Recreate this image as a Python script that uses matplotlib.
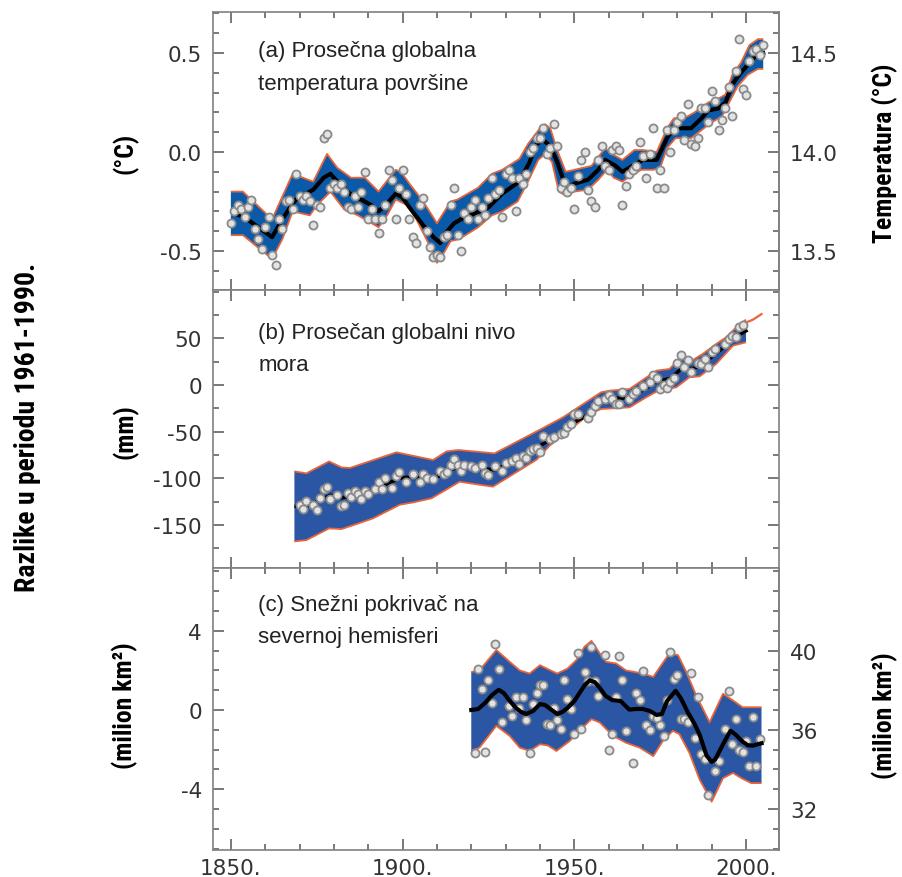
import numpy as np
import matplotlib
matplotlib.use("Agg")
import matplotlib.pyplot as plt
from matplotlib import font_manager
from matplotlib.ticker import MultipleLocator, FixedLocator, FormatStrFormatter

# ---------------- data ----------------
# (a) global mean surface temperature anomaly (deg C), annual values
temp_years = list(range(1850, 2006))
temp_anom = [
    -0.36, -0.30, -0.27, -0.29, -0.33, -0.28, -0.24, -0.39, -0.44, -0.49,
    -0.38, -0.33, -0.52, -0.57, -0.34, -0.39, -0.25, -0.24, -0.29, -0.11,
    -0.22, -0.24, -0.22, -0.25, -0.37, -0.27, -0.28, 0.07, 0.09, -0.18,
    -0.16, -0.18, -0.16, -0.20, -0.28, -0.29, -0.22, -0.28, -0.20, -0.10,
    -0.34, -0.29, -0.34, -0.41, -0.34, -0.27, -0.09, -0.14, -0.34, -0.18,
    -0.09, -0.21, -0.34, -0.43, -0.46, -0.27, -0.23, -0.40, -0.48, -0.53,
    -0.52, -0.53, -0.43, -0.42, -0.27, -0.18, -0.42, -0.50, -0.31, -0.34,
    -0.28, -0.24, -0.34, -0.28, -0.32, -0.23, -0.13, -0.21, -0.19, -0.33,
    -0.11, -0.09, -0.13, -0.30, -0.13, -0.16, -0.11, 0.00, 0.02, 0.07,
    0.07, 0.12, -0.01, 0.02, 0.14, 0.03, -0.18, -0.15, -0.20, -0.18,
    -0.29, -0.12, -0.04, 0.00, -0.19, -0.25, -0.28, -0.04, 0.03, -0.07,
    -0.09, 0.01, 0.03, 0.01, -0.27, -0.17, -0.11, -0.09, -0.07, 0.05,
    -0.02, -0.13, -0.01, 0.12, -0.18, -0.09, -0.18, 0.11, 0.00, 0.11,
    0.15, 0.18, 0.06, 0.24, 0.04, 0.03, 0.07, 0.22, 0.22, 0.15,
    0.31, 0.26, 0.11, 0.16, 0.22, 0.33, 0.18, 0.41, 0.57, 0.32,
    0.29, 0.46, 0.51, 0.52, 0.49, 0.54,
]
temp_line_years = [1851, 1854, 1858, 1862, 1865, 1868, 1870, 1872, 1874, 1877,
                   1879, 1881, 1884, 1886, 1888, 1891, 1893, 1895, 1898, 1900,
                   1902, 1906, 1909, 1911, 1912, 1915, 1917, 1921, 1925, 1929,
                   1934, 1937, 1939, 1941, 1943, 1945, 1947, 1948, 1950, 1954,
                   1957, 1959, 1962, 1964, 1967, 1970, 1974, 1977, 1979, 1981,
                   1984, 1987, 1989, 1992, 1994, 1996, 1998, 2001, 2003, 2005]
temp_line = [-0.31, -0.33, -0.38, -0.43, -0.34, -0.26, -0.22, -0.21, -0.19, -0.13,
             -0.11, -0.15, -0.20, -0.23, -0.24, -0.27, -0.30, -0.27, -0.21, -0.23,
             -0.28, -0.37, -0.43, -0.46, -0.42, -0.36, -0.34, -0.31, -0.28, -0.21,
             -0.15, -0.05, 0.04, 0.06, 0.03, -0.05, -0.15, -0.18, -0.16, -0.14,
             -0.09, -0.04, -0.07, -0.10, -0.07, -0.04, -0.04, 0.07, 0.12, 0.12,
             0.12, 0.17, 0.21, 0.22, 0.25, 0.34, 0.39, 0.45, 0.49, 0.50]
temp_up_years = [1850, 1853.5, 1862, 1868, 1874, 1878, 1881, 1885, 1889, 1893,
                 1898, 1899.5, 1902, 1906, 1910, 1914, 1916, 1922, 1926, 1929,
                 1934, 1936.5, 1940, 1941.5, 1943, 1945, 1947.5, 1950, 1955, 1959,
                 1961, 1964, 1967.5, 1970, 1974, 1977, 1979, 1983, 1985, 1989,
                 1992, 1994, 1996, 1998.5, 2001, 2003.5, 2005]
temp_up = [-0.20, -0.20, -0.34, -0.11, -0.15, -0.01, -0.08, -0.13, -0.13, -0.20,
           -0.09, -0.10, -0.16, -0.25, -0.36, -0.25, -0.24, -0.18, -0.11, -0.09,
           -0.035, 0.04, 0.12, 0.14, 0.12, 0.01, -0.10, -0.09, -0.07, 0.02,
           -0.01, -0.04, 0.01, 0.01, 0.00, 0.12, 0.17, 0.18, 0.20, 0.25,
           0.27, 0.29, 0.39, 0.45, 0.54, 0.57, 0.57]
temp_lo_years = [1850, 1853.5, 1862, 1865, 1868, 1873, 1875, 1879, 1883, 1887,
                 1890, 1893, 1895.5, 1898, 1901.5, 1904, 1907.5, 1910, 1912, 1914,
                 1916.5, 1922, 1926, 1929, 1933.5, 1936.5, 1939.5, 1941.5, 1943.5, 1945.5,
                 1947.5, 1950, 1954, 1957, 1959.5, 1961.5, 1964, 1966.5, 1969.5, 1973,
                 1975, 1977, 1979.5, 1984, 1987, 1990, 1993, 1994.5, 1997.5, 2000.5,
                 2003.5, 2005]
temp_lo = [-0.42, -0.42, -0.54, -0.44, -0.30, -0.32, -0.27, -0.20, -0.29, -0.32,
           -0.35, -0.38, -0.32, -0.24, -0.27, -0.34, -0.46, -0.56, -0.51, -0.45,
           -0.44, -0.38, -0.32, -0.30, -0.25, -0.15, -0.04, -0.01, -0.05, -0.20,
           -0.22, -0.20, -0.19, -0.14, -0.09, -0.13, -0.15, -0.12, -0.09, -0.09,
           -0.08, 0.02, 0.07, 0.07, 0.11, 0.15, 0.18, 0.23, 0.33, 0.39,
           0.42, 0.42]

# (b) global mean sea level anomaly (mm)
sea_years = [1870, 1871, 1872, 1874, 1875, 1876, 1877, 1878, 1879, 1881,
             1882, 1883, 1884, 1885, 1886, 1887, 1888, 1889, 1890, 1892,
             1893, 1894, 1895, 1897, 1898, 1899, 1901, 1903, 1905, 1906,
             1907, 1909, 1911, 1912, 1913, 1914, 1915, 1916, 1917, 1918,
             1920, 1921, 1923, 1924, 1925, 1927, 1929, 1930, 1932, 1933,
             1934, 1935, 1936, 1937, 1938, 1939, 1940, 1941, 1943, 1944,
             1946, 1947, 1948, 1949, 1950, 1951, 1954, 1955, 1956, 1957,
             1959, 1960, 1961, 1962, 1963, 1964, 1966, 1967, 1968, 1970,
             1972, 1973, 1974, 1975, 1976, 1977, 1978, 1979, 1980, 1981,
             1982, 1983, 1984, 1986, 1987, 1988, 1989, 1990, 1991, 1994,
             1995, 1996, 1997, 1998, 1999]
sea_mm = [-129, -133, -124, -129, -134, -121, -111, -109, -122, -118,
          -130, -128, -116, -120, -113, -117, -122, -113, -117, -111,
          -104, -111, -100, -110, -97, -93, -104, -95, -104, -95,
          -100, -101, -92, -95, -93, -86, -79, -86, -92, -86,
          -87, -89, -86, -94, -96, -87, -92, -84, -81, -78,
          -85, -76, -78, -71, -69, -67, -72, -55, -58, -56,
          -52, -51, -45, -42, -31, -31, -35, -29, -22, -17,
          -15, -11, -15, -20, -20, -8, -15, -10, -6, -1,
          3, 11, 7, -4, 0, -3, 3, 8, 24, 32,
          19, 27, 14, 24, 23, 28, 19, 35, 39, 44,
          49, 52, 51, 62, 64]
sea_line_years = [1869, 1872, 1879, 1882, 1885, 1891, 1899, 1903, 1909, 1913,
                  1917, 1927, 1933, 1940, 1947, 1950, 1955, 1958, 1961, 1966,
                  1971, 1974, 1978, 1981, 1985, 1988, 1991, 1994, 1997, 2000]
sea_line = [-130, -130, -118, -121, -119, -113, -100, -98, -101, -92,
            -87, -91, -80, -65, -50, -40, -30, -17, -14, -14,
            -3, 4, 7, 17, 18, 24, 33, 42, 52, 58]
sea_up_years = [1868.5, 1872, 1878.6, 1882.2, 1884.6, 1898.2, 1908.9, 1912.8, 1916.2, 1926.8,
                1940, 1946.7, 1957.8, 1960.3, 1966.1, 1973.9, 1977.7, 1980.6, 1984.5, 1987.4,
                1991.3, 1994.2, 1997.6, 2000]
sea_up = [-92.5, -94.6, -81.8, -88.2, -88.9, -72.1, -80.3, -71.1, -69.6, -73.2,
          -47.8, -34.6, -7.8, -6.0, -4.2, 15.4, 17.2, 27.9, 26.8, 33.3,
          44.0, 51.1, 63.6, 70.0]
sea_lo_years = [1868.5, 1872, 1878.6, 1882.2, 1886.6, 1891.4, 1899.2, 1903.1, 1908.4, 1916.6,
                1926.3, 1939, 1942.8, 1949.6, 1954.4, 1957.8, 1966.1, 1970.9, 1973.9, 1979.7,
                1983.5, 1986.5, 1991.3, 1996.2, 2000]
sea_lo = [-167.5, -166.1, -153.6, -154.3, -148.9, -142.8, -128.2, -125.7, -121.4, -103.6,
          -108.9, -80.0, -65.0, -45.3, -31.0, -25.7, -23.9, -13.2, -7.1, -2.4,
          8.3, 9.3, 22.6, 42.2, 45.8]
sea_sat_years = [2000, 2002, 2004.5]
sea_sat = [67, 70, 76]

# (c) Northern Hemisphere snow cover anomaly (million km2)
snow_years = [1921, 1922, 1923, 1924, 1925, 1926, 1927, 1928, 1929, 1931,
              1932, 1933, 1934, 1935, 1936, 1937, 1938, 1939, 1940, 1941,
              1942, 1943, 1944, 1945, 1946, 1947, 1948, 1949, 1950, 1951,
              1952, 1953, 1954, 1955, 1956, 1957, 1959, 1960, 1961, 1962,
              1963, 1964, 1965, 1967, 1968, 1969, 1970, 1971, 1972, 1973,
              1974, 1975, 1976, 1977, 1978, 1979, 1980, 1981, 1982, 1983,
              1984, 1985, 1986, 1987, 1988, 1989, 1991, 1992, 1994, 1995,
              1996, 1997, 1998, 1999, 2000, 2001, 2002, 2003, 2004]
snow_anom = [-2.16, 2.09, 1.04, -2.13, 1.50, 0.36, 3.33, 2.06, -0.63, 0.19,
             -0.29, 0.65, 0.09, 0.65, -0.49, -2.16, 0.31, 0.87, 1.24, 1.24,
             -0.71, -0.77, 0.09, -0.49, -0.94, 1.50, 0.56, 0.05, -1.22, 2.89,
             -0.97, 1.92, 1.45, 3.20, 1.45, 0.73, 2.77, -2.04, -1.22, 0.65,
             2.72, 1.50, -1.05, -2.67, 0.85, 0.51, 1.96, -0.77, -1.00, -0.32,
             -0.40, -0.75, -1.31, 0.48, 2.94, 1.58, 1.75, -0.46, -0.46, -0.60,
             1.87, -1.39, 0.68, -2.24, -2.47, -4.29, -3.10, -2.59, -0.94, 0.94,
             -1.70, -0.43, -2.04, -2.13, -1.56, -2.81, -0.37, -2.81, -1.45]
snow_line_years = [1920, 1922, 1924, 1926, 1928, 1929.5, 1931, 1933, 1934.5, 1936,
                   1938, 1940, 1941.5, 1943, 1945, 1946.5, 1948, 1950, 1951.5, 1953,
                   1954.5, 1956, 1957.5, 1959, 1961, 1963.5, 1966, 1968, 1970, 1972,
                   1974, 1975.5, 1977, 1979.5, 1981, 1983, 1985, 1986.5, 1988.5, 1990,
                   1991, 1992.5, 1994, 1995.5, 1997, 1999, 2000.5, 2002, 2004.5]
snow_line = [0.00, 0.05, 0.35, 0.75, 1.02, 0.85, 0.50, 0.10, -0.10, -0.20,
             -0.05, 0.30, 0.25, 0.05, -0.20, -0.10, 0.10, 0.45, 0.85, 1.25,
             1.50, 1.40, 1.10, 0.73, 0.50, 0.45, 0.02, 0.05, 0.05, -0.05,
             -0.25, -0.20, 0.45, 0.97, 0.60, -0.10, -0.70, -1.25, -2.30, -2.62,
             -2.50, -2.00, -1.50, -1.05, -1.25, -1.60, -1.78, -1.80, -1.68]
snow_up_years = [1920, 1922.4, 1927.3, 1931.2, 1934.1, 1937, 1940, 1942, 1945, 1948,
                 1950.6, 1953, 1955, 1957.4, 1959.3, 1962.2, 1965, 1970, 1973, 1975.3,
                 1977.7, 1980.2, 1982.6, 1985.5, 1989.4, 1993.3, 1996.2, 1999, 2004.5]
snow_up = [1.92, 2.00, 3.03, 2.43, 2.00, 1.84, 2.26, 2.09, 1.84, 2.09,
           2.52, 3.20, 3.49, 2.86, 2.43, 2.35, 2.00, 1.84, 1.67, 2.26,
           2.86, 2.77, 1.92, 0.73, -0.62, 0.82, 0.48, 0.14, 0.14]
snow_lo_years = [1920, 1922.4, 1927.3, 1931.2, 1934.1, 1937, 1940, 1942.3, 1944.8, 1948.7,
                 1951.5, 1955, 1957.4, 1960.3, 1962.2, 1965, 1969, 1973, 1975.8, 1978.7,
                 1980.6, 1983.5, 1986.5, 1990, 1993.3, 1996.2, 1998.6, 2001.5, 2004.5]
snow_lo = [-2.07, -1.90, -0.80, -1.31, -1.90, -2.07, -1.73, -1.79, -2.07, -1.56,
           -1.05, -0.46, -0.63, -1.14, -1.39, -1.65, -1.90, -2.33, -1.56, -1.05,
           -1.22, -2.16, -3.52, -4.63, -3.44, -3.18, -3.44, -3.69, -3.69]

year_ticks = [1850, 1900, 1950, 2000]
year_labels = ["1850.", "1900.", "1950.", "2000."]

panel_texts = [("(a) Prosečna globalna", "temperatura površine"),
               ("(b) Prosečan globalni nivo", "mora"),
               ("(c) Snežni pokrivač na", "severnoj hemisferi")]

# ---------------- style ----------------
plt.rcParams["axes.unicode_minus"] = False
names = {f.name for f in font_manager.fontManager.ttflist}
NARROW = "DejaVu Sans"
NARROW_STRETCH = "condensed"
for cand in ("Liberation Sans Narrow", "Roboto Condensed", "Open Sans Condensed",
             "DejaVu Sans Condensed"):
    if cand in names:
        NARROW = cand
        NARROW_STRETCH = "normal"
        break
TEXTFONT = "Liberation Sans"
TICKFONT = "DejaVu Sans"

BLUE_A = "#0a5aa9"
BLUE_BC = "#2b56a4"
ORANGE = "#e8643a"
DOT_FACE = "#e3e3e3"
DOT_EDGE = "#8a8a8a"
SPINE = "#808080"
TICKC = "#555555"
LABC = "#333333"
TICKSIZE = 15.5

fig = plt.figure(figsize=(9.02, 8.78), dpi=100)
L, W = 213 / 902, 566 / 902
ax_a = fig.add_axes([L, 1 - 291 / 878, W, 278 / 878])
ax_b = fig.add_axes([L, 1 - 569 / 878, W, 278 / 878])
ax_c = fig.add_axes([L, 1 - 851 / 878, W, 282 / 878])

XLIM = (1844.8, 2009.6)


def style_axes(ax, right_ticks):
    ax.set_xlim(*XLIM)
    for s in ax.spines.values():
        s.set_color(SPINE)
        s.set_linewidth(1.2)
    ax.xaxis.set_major_locator(FixedLocator(year_ticks))
    ax.xaxis.set_minor_locator(MultipleLocator(10))
    ax.tick_params(which="both", direction="in", top=True, bottom=True,
                   left=True, right=right_ticks, colors=TICKC, width=1.1,
                   labelcolor=LABC, labelsize=TICKSIZE)
    ax.tick_params(axis="y", which="both", pad=8)
    ax.tick_params(which="major", length=8)
    ax.tick_params(which="minor", length=4.5)
    for lab in ax.get_yticklabels():
        lab.set_fontfamily(TICKFONT)


def band(ax, ux, uy, lx, ly, color):
    xs = np.concatenate([np.asarray(ux, float), np.asarray(lx, float)[::-1]])
    ys = np.concatenate([np.asarray(uy, float), np.asarray(ly, float)[::-1]])
    ax.fill(xs, ys, color=color, lw=0, zorder=1)
    ax.plot(ux, uy, color=ORANGE, lw=1.3, zorder=2, solid_capstyle="butt")
    ax.plot(lx, ly, color=ORANGE, lw=1.3, zorder=2, solid_capstyle="butt")


def dots(ax, x, y):
    ax.scatter(x, y, s=34, facecolor=DOT_FACE, edgecolor=DOT_EDGE,
               linewidth=1.3, zorder=5)


# (a)
band(ax_a, temp_up_years, temp_up, temp_lo_years, temp_lo, BLUE_A)
ax_a.plot(temp_line_years, temp_line, color="black", lw=3.0, zorder=4)
dots(ax_a, temp_years, temp_anom)
style_axes(ax_a, False)
ax_a.set_ylim(-0.697, 0.707)
ax_a.set_yticks([-0.5, 0.0, 0.5])
ax_a.yaxis.set_major_formatter(FormatStrFormatter("%.1f"))
ax_a.yaxis.set_minor_locator(MultipleLocator(0.1))
ax_a.tick_params(labelbottom=False)
sec_a = ax_a.secondary_yaxis("right", functions=(lambda v: v + 14.0, lambda v: v - 14.0))
sec_a.set_yticks([13.5, 14.0, 14.5])
sec_a.yaxis.set_major_formatter(FormatStrFormatter("%.1f"))
sec_a.yaxis.set_minor_locator(MultipleLocator(0.1))

# (b)
band(ax_b, sea_up_years, sea_up, sea_lo_years, sea_lo, BLUE_BC)
ax_b.plot(sea_sat_years, sea_sat, color=ORANGE, lw=1.6, zorder=2)
ax_b.plot(sea_line_years, sea_line, color="black", lw=2.5, zorder=3)
dots(ax_b, sea_years, sea_mm)
style_axes(ax_b, True)
ax_b.set_ylim(-196, 101.8)
ax_b.set_yticks([-150, -100, -50, 0, 50])
ax_b.yaxis.set_minor_locator(MultipleLocator(25))
ax_b.tick_params(labelbottom=False)

# (c)
band(ax_c, snow_up_years, snow_up, snow_lo_years, snow_lo, BLUE_BC)
dots(ax_c, snow_years, snow_anom)
ax_c.plot(snow_line_years, snow_line, color="black", lw=3.0, zorder=6,
          solid_joinstyle="round")
style_axes(ax_c, False)
ax_c.set_ylim(-7.07, 7.17)
ax_c.set_yticks([-4, 0, 4])
ax_c.yaxis.set_minor_locator(MultipleLocator(1))
ax_c.set_xticks(year_ticks)
ax_c.set_xticklabels(year_labels, fontfamily=TICKFONT)
ax_c.tick_params(axis="x", pad=6)
sec_c = ax_c.secondary_yaxis("right", functions=(lambda v: v + 37.0, lambda v: v - 37.0))
sec_c.set_yticks([32, 36, 40])
sec_c.yaxis.set_minor_locator(MultipleLocator(1))

for sec in (sec_a, sec_c):
    sec.tick_params(which="both", direction="in", colors=TICKC, width=1.1,
                    labelcolor=LABC, labelsize=TICKSIZE, pad=8)
    sec.tick_params(which="major", length=8)
    sec.tick_params(which="minor", length=4.5)
    sec.spines["right"].set_color(SPINE)
    sec.spines["right"].set_linewidth(1.2)
    for lab in sec.get_yticklabels():
        lab.set_fontfamily(TICKFONT)

# panel titles
for ax, (l1, l2), ys in zip((ax_a, ax_b, ax_c), panel_texts,
                            ((0.862, 0.742), (0.848, 0.733), (0.870, 0.757))):
    ax.text(0.08, ys[0], l1, transform=ax.transAxes, fontsize=16,
            family=TEXTFONT, color="#222222", va="center", ha="left")
    ax.text(0.08, ys[1], l2, transform=ax.transAxes, fontsize=16,
            family=TEXTFONT, color="#222222", va="center", ha="left")

# axis labels
lab_kw = dict(rotation=90, ha="center", va="center", fontsize=18.5,
              fontweight="bold", family=NARROW, fontstretch=NARROW_STRETCH, color="black")
fig.text(125 / 902, 1 - 153 / 878, "(°C)", **lab_kw)
fig.text(125 / 902, 1 - 432 / 878, "(mm)", **lab_kw)
fig.text(125 / 902, 1 - 706 / 878, "(milion km²)", **lab_kw)
fig.text(885 / 902, 1 - 153 / 878, "Temperatura (°C)", **lab_kw)
fig.text(885 / 902, 1 - 716 / 878, "(milion km²)", **lab_kw)
lab_kw["fontsize"] = 20
fig.text(28 / 902, 1 - 427 / 878, "Razlike u periodu 1961-1990.", **lab_kw)

fig.savefig("out.png", dpi=100)
